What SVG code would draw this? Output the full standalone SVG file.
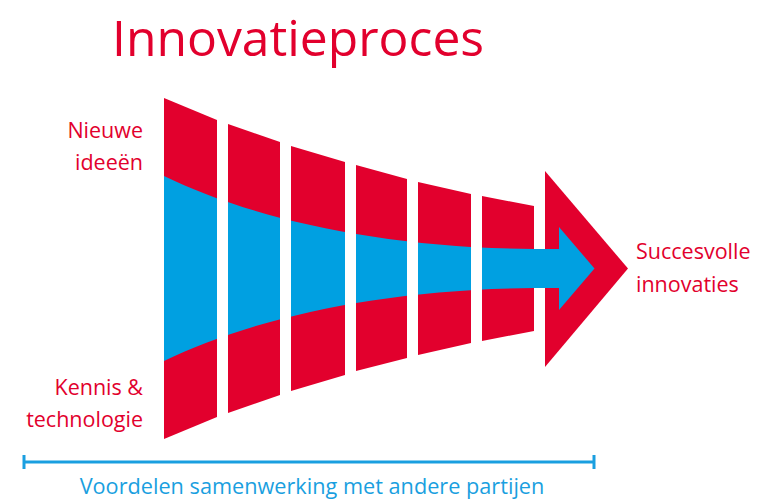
<svg xmlns="http://www.w3.org/2000/svg" width="757" height="499" viewBox="0 0 757 499">
<style>
.red{fill:#E2002D}
.blue{fill:#00A0E1}
text{font-family:"Open Sans","Noto Sans","Liberation Sans",sans-serif;font-variant-ligatures:none}
.lbl{font-size:21.5px;fill:#E2002D}
.btm{font-size:21.7px;fill:#1A9FE0}
.ttl{font-size:49.8px;fill:#E2002D}
</style>
<defs>
<clipPath id="segs">
<polygon points="164,98 217,120 217,417 164,439"/>
<polygon points="228,124 280,142 280,395 228,413"/>
<polygon points="291,146 345,162 345,375 291,391"/>
<polygon points="356,165 407,179 407,358 356,371"/>
<polygon points="418,182 471,194 471,343 418,355"/>
<polygon points="482,196 534,206 534,331 482,341"/>
</clipPath>
</defs>
<rect width="757" height="499" fill="#fff"/>
<text class="ttl" x="112" y="56">Innovatieproces</text>
<g id="funnel">
<g id="segments" class="red">
<polygon points="164,98 217,120 217,417 164,439"/>
<polygon points="228,124 280,142 280,395 228,413"/>
<polygon points="291,146 345,162 345,375 291,391"/>
<polygon points="356,165 407,179 407,358 356,371"/>
<polygon points="418,182 471,194 471,343 418,355"/>
<polygon points="482,196 534,206 534,331 482,341"/>
</g>
<path class="blue" clip-path="url(#segs)" d="M164,176 C250,218 380,248 534,249 L534,288 C380,289 250,319 164,361 Z"/>
</g>
<g id="arrow">
<polygon class="red" points="545,171 628,268.5 545,367"/>
<rect class="blue" x="533.5" y="249" width="27" height="39"/>
<polygon class="blue" points="559,227 594.5,268.5 559,310"/>
</g>
<g id="label-ideas"><text class="lbl" text-anchor="end"><tspan x="143" y="138">Nieuwe</tspan><tspan x="143" y="170">ideeën</tspan></text></g>
<g id="label-knowledge"><text class="lbl" text-anchor="end"><tspan x="143" y="395">Kennis &amp;</tspan><tspan x="143" y="427">technologie</tspan></text></g>
<g id="label-success"><text class="lbl"><tspan x="636" y="259">Succesvolle</tspan><tspan x="636" y="292">innovaties</tspan></text></g>
<g id="connectors">
<g id="span" stroke="#1A9FE0" stroke-width="3" fill="none">
<line x1="24" y1="462" x2="594" y2="462"/>
<line x1="24" y1="455" x2="24" y2="469"/>
<line x1="594" y1="455" x2="594" y2="469"/>
</g>
</g>
<g id="label-bottom"><text class="btm" x="312" y="494" text-anchor="middle">Voordelen samenwerking met andere partijen</text></g>
</svg>
